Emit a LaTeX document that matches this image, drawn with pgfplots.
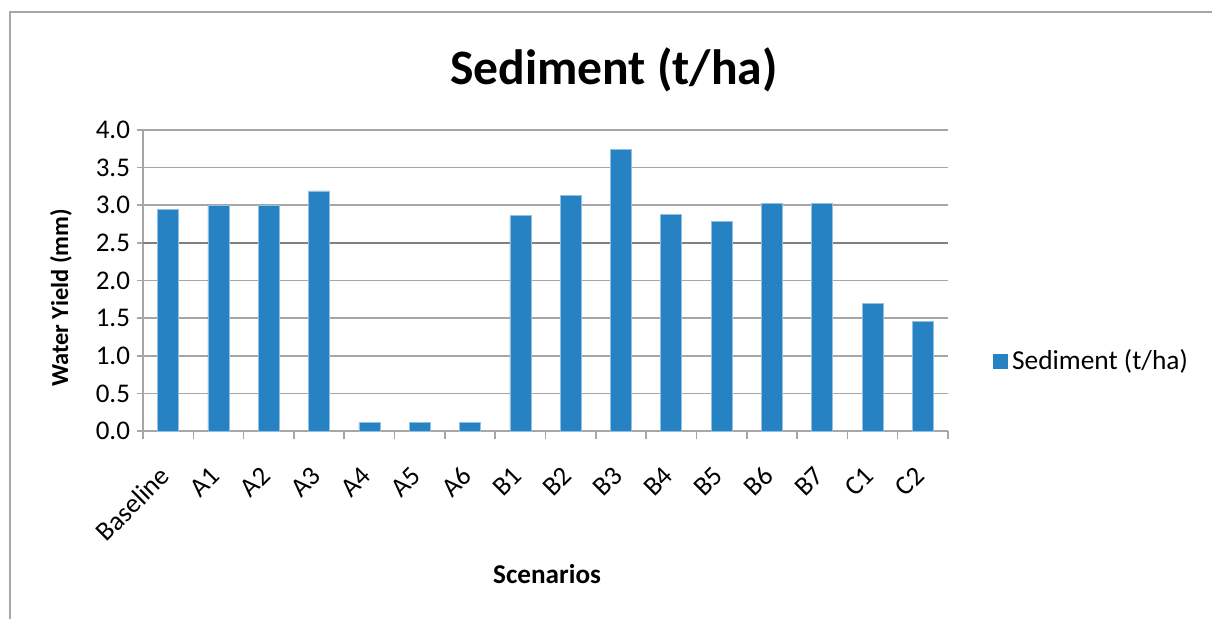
\documentclass[border=0pt]{standalone}
\usepackage{fontspec}
\setmainfont{Carlito}
\usepackage{pgfplots}
\pgfplotsset{compat=1.18}
\definecolor{barblue}{RGB}{38,130,194}
\definecolor{gridgray}{RGB}{166,166,166}
\definecolor{darkgrid}{RGB}{128,128,128}
\begin{document}
\begin{tikzpicture}
\useasboundingbox (0,0) rectangle (606bp,-309.5bp);
\draw[gridgray, line width=1bp] (5bp,-309.5bp) -- (5bp,-6bp) -- (606bp,-6bp);
\node[font=\bfseries\fontsize{24.8bp}{28bp}\selectfont] at (307bp,-35bp) {Sediment (t/ha)};
\begin{axis}[
  at={(71.5bp,-215.5bp)}, anchor=south west,
  scale only axis, width=402.5bp, height=150.5bp,
  ybar, bar width=10.5bp,
  xmin=-0.5, xmax=15.5, ymin=0, ymax=4,
  axis lines=left, axis line style={-, gridgray, line width=0.8bp},
  xtick={0,...,15},
  xticklabels={Baseline,A1,A2,A3,A4,A5,A6,B1,B2,B3,B4,B5,B6,B7,C1,C2},
  minor xtick={-0.5,0.5,...,15.5},
  major x tick style={draw=none},
  minor x tick style={gridgray, line width=0.8bp},
  minor tick length=4bp,
  ytick={0,0.5,...,4},
  major y tick style={gridgray, line width=0.8bp},
  major tick length=3bp,
  tick align=outside,
  yticklabel style={/pgf/number format/.cd, fixed, fixed zerofill, precision=1, assume math mode=true},
  ticklabel style={font=\fontsize{13.5bp}{15bp}\selectfont, text=black},
  xticklabel style={anchor=east, inner sep=0pt, xshift=-1.5bp, yshift=-17bp, rotate=45},
  ymajorgrids, grid style={gridgray, line width=0.8bp},
  extra y ticks={2.5}, extra y tick labels={},
  extra y tick style={grid style={darkgrid, line width=1.1bp}, major tick length=0pt},
  ylabel={Water Yield (mm)},
  ylabel style={font=\bfseries\fontsize{12.2bp}{14bp}\selectfont, at={(axis description cs:-0.102,0.442)}, anchor=center},
  xlabel={Scenarios},
  xlabel style={font=\bfseries\fontsize{13.6bp}{15bp}\selectfont, at={(axis description cs:0.502,-0.475)}, anchor=center},
  legend style={draw=none, at={(axis description cs:1.056,0.233)}, anchor=west, inner sep=0pt,
    font=\fontsize{13.7bp}{15bp}\selectfont, legend cell align=left},
]
\addplot[fill=barblue, draw=barblue!50!white, line width=0.3bp,
  legend image code/.code={\fill[barblue] (0bp,-3.5bp) rectangle (7bp,3.5bp);}]
coordinates {(0,2.95) (1,3.0) (2,3.0) (3,3.19) (4,0.11) (5,0.11) (6,0.11) (7,2.86) (8,3.13) (9,3.74) (10,2.88) (11,2.79) (12,3.03) (13,3.03) (14,1.70) (15,1.46)};
\addlegendentry{Sediment (t/ha)}
\end{axis}
\end{tikzpicture}
\end{document}
